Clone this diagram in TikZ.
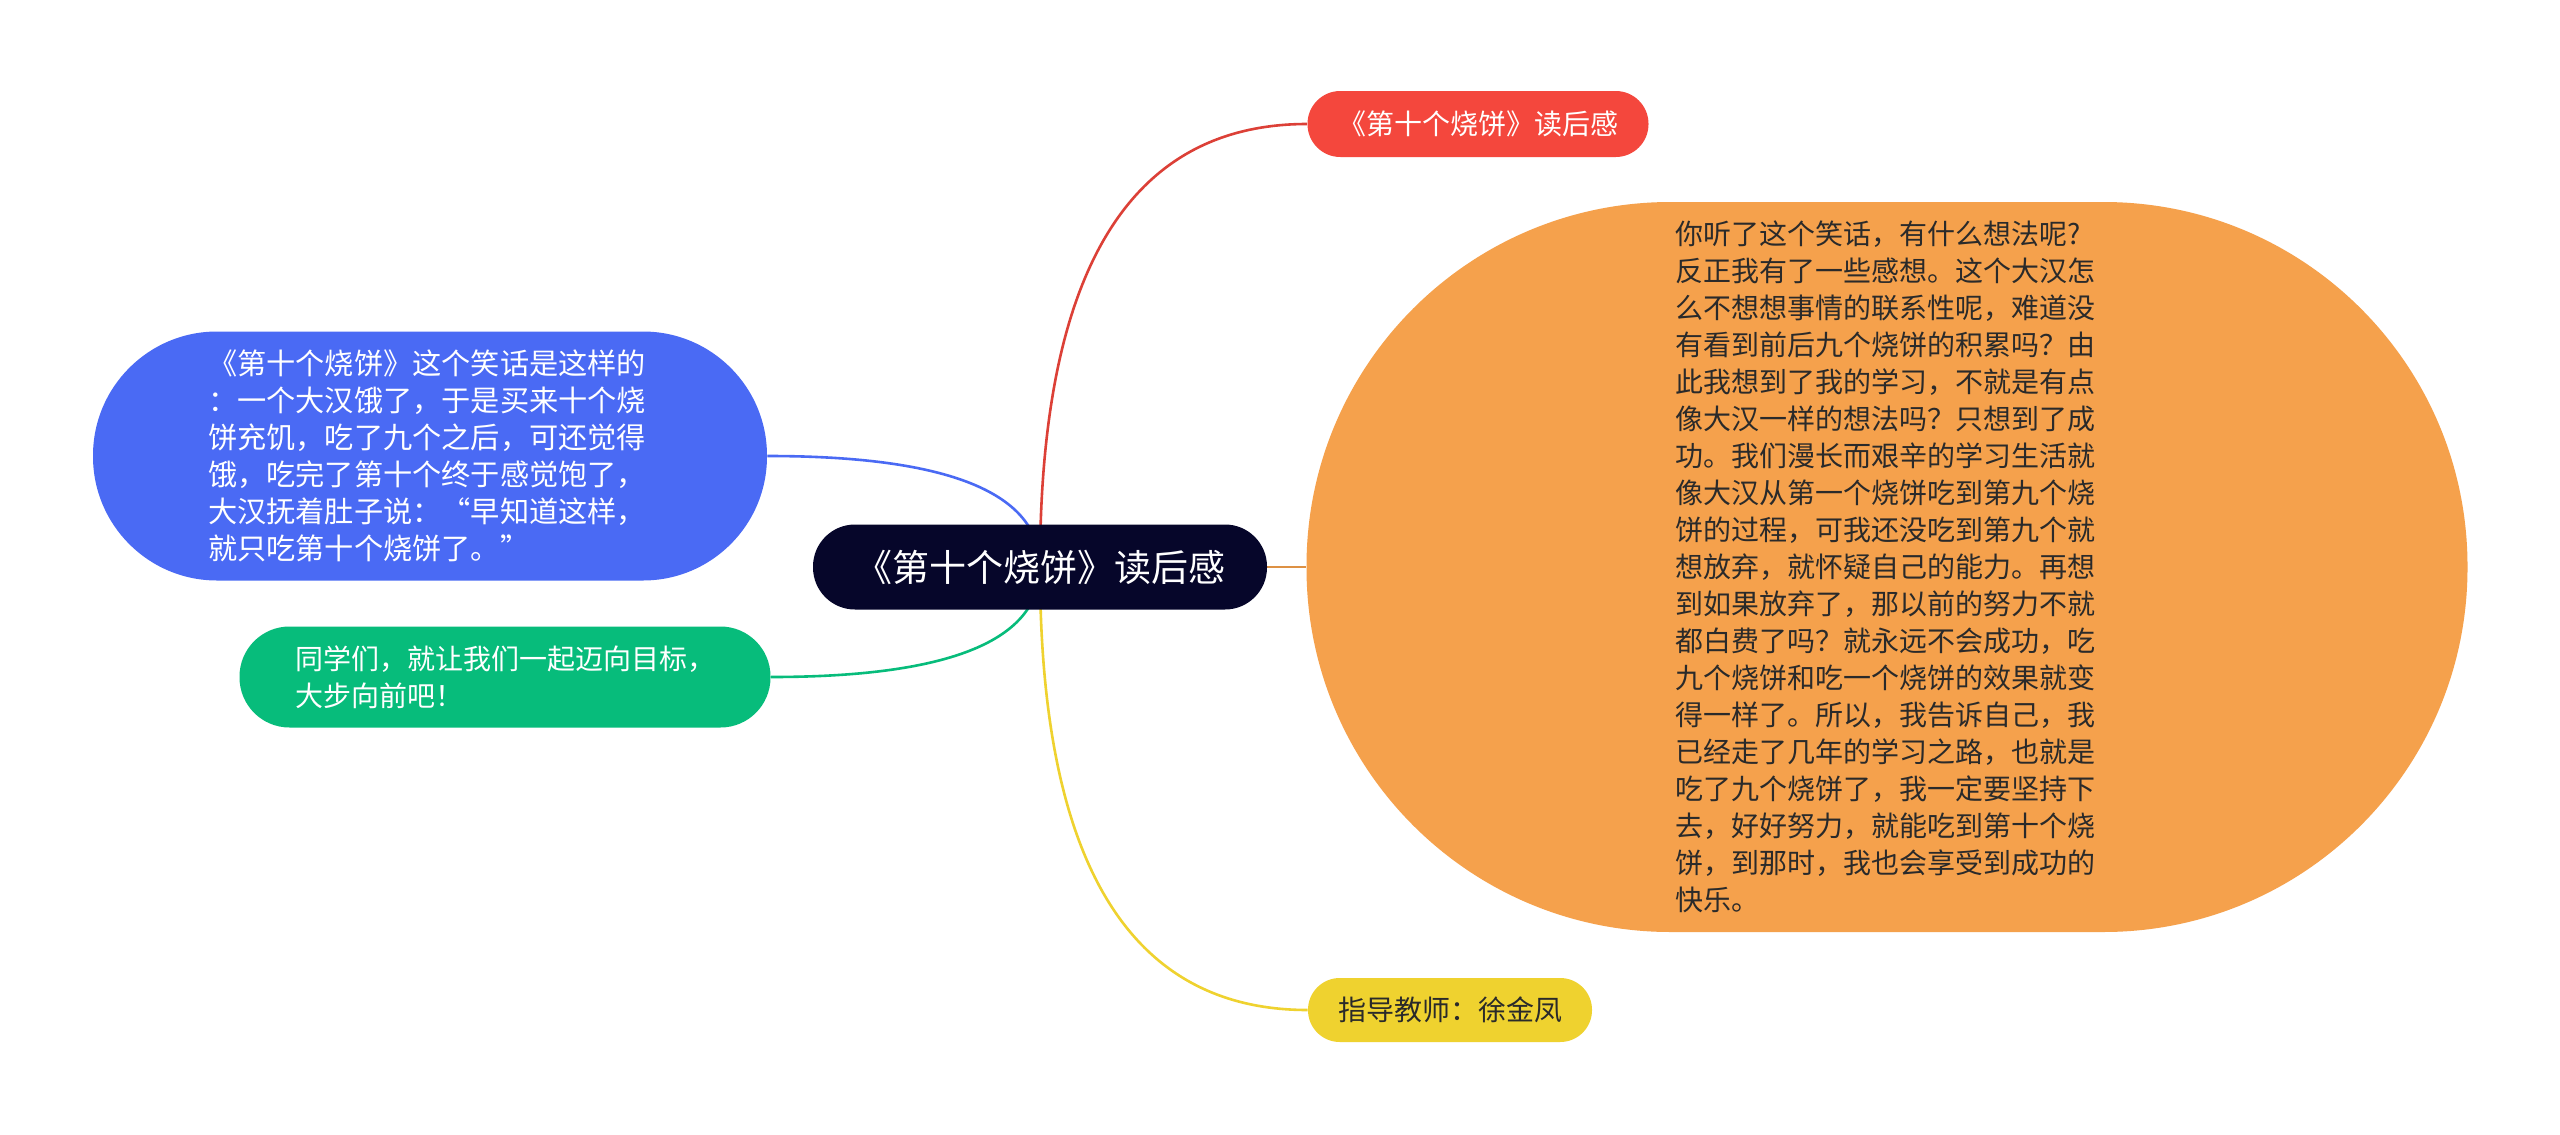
\documentclass[tikz,border=0pt]{standalone}
\usepackage{fontspec}
\setmainfont{Noto Sans CJK SC}
\usetikzlibrary{calc,backgrounds}

\definecolor{rootbg}{HTML}{06062A}
\definecolor{redbg}{HTML}{F4473D}
\definecolor{orangebg}{HTML}{F5A14C}
\definecolor{yellowbg}{HTML}{EFD22F}
\definecolor{bluebg}{HTML}{4A6AF4}
\definecolor{greenbg}{HTML}{07BC7B}
\definecolor{darktext}{HTML}{2A2A2A}

% branch from the root centre, bending like a quadratic curve
\newcommand{\twig}[2]{%
  \draw[link, #1] (root.center)
    .. controls ($(root.center)!2/3!(root.center |- #2)$)
            and ($(#2)!2/3!(root.center |- #2)$) .. (#2);}

\begin{document}
\begin{tikzpicture}[
  x=0.5pt, y=-0.5pt,
  pill/.style={rectangle, rounded corners=#1, inner xsep=0pt, inner ysep=0pt,
    font=\fontsize{14pt}{18.5pt}\selectfont},
  leaf/.style={pill=#1, text=white},
  note/.style={align=left},
  link/.style={line width=1.3pt}
]
\useasboundingbox (0,0) rectangle (2560,1135);

% root
\node[pill=21pt, fill=rootbg, text=white, minimum width=227pt, minimum height=42.5pt,
  font=\fontsize{18.5pt}{22pt}\selectfont] (root) at (1040,567) {《第十个烧饼》读后感};

% right side
\node[leaf=16.4pt, fill=redbg, minimum width=170.5pt, minimum height=33pt] (title) at (1478,124) {《第十个烧饼》读后感};
\node[pill=182pt, fill=orangebg, text=darktext, note, text width=212pt, minimum width=580.5pt, minimum height=365pt] (thought) at (1887,567) {%
你听了这个笑话，有什么想法呢?\\
反正我有了一些感想。这个大汉怎\\
么不想想事情的联系性呢，难道没\\
有看到前后九个烧饼的积累吗？由\\
此我想到了我的学习，不就是有点\\
像大汉一样的想法吗？只想到了成\\
功。我们漫长而艰辛的学习生活就\\
像大汉从第一个烧饼吃到第九个烧\\
饼的过程，可我还没吃到第九个就\\
想放弃，就怀疑自己的能力。再想\\
到如果放弃了，那以前的努力不就\\
都白费了吗？就永远不会成功，吃\\
九个烧饼和吃一个烧饼的效果就变\\
得一样了。所以，我告诉自己，我\\
已经走了几年的学习之路，也就是\\
吃了九个烧饼了，我一定要坚持下\\
去，好好努力，就能吃到第十个烧\\
饼，到那时，我也会享受到成功的\\
快乐。};
\node[pill=15.9pt, fill=yellowbg, text=darktext, minimum width=142pt, minimum height=32pt] (teacher) at (1450,1010) {指导教师：徐金凤};

% left side
\node[leaf=62pt, fill=bluebg, note, text width=222pt, minimum width=337pt, minimum height=124.5pt,
  font=\fontsize{14.6pt}{18.5pt}\selectfont] (story) at (430,456) {%
《第十个烧饼》这个笑话是这样的\\
：一个大汉饿了，于是买来十个烧\\
饼充饥，吃了九个之后，可还觉得\\
饿，吃完了第十个终于感觉饱了，\\
大汉抚着肚子说：“早知道这样，\\
就只吃第十个烧饼了。”};
\node[leaf=25pt, fill=greenbg, note, text width=210pt, minimum width=265.5pt, minimum height=50.5pt] (call) at (505,677) {%
同学们，就让我们一起迈向目标，\\
大步向前吧！};

\begin{scope}[on background layer]
\fill[white] (0,0) rectangle (2560,1135);
\twig{redbg!90!black}{title.west}
\twig{bluebg}{story.east}
\twig{greenbg}{call.east}
\twig{yellowbg}{teacher.west}
\draw[link, orangebg!90!black] (root) -- (thought);
\end{scope}
\end{tikzpicture}
\end{document}
